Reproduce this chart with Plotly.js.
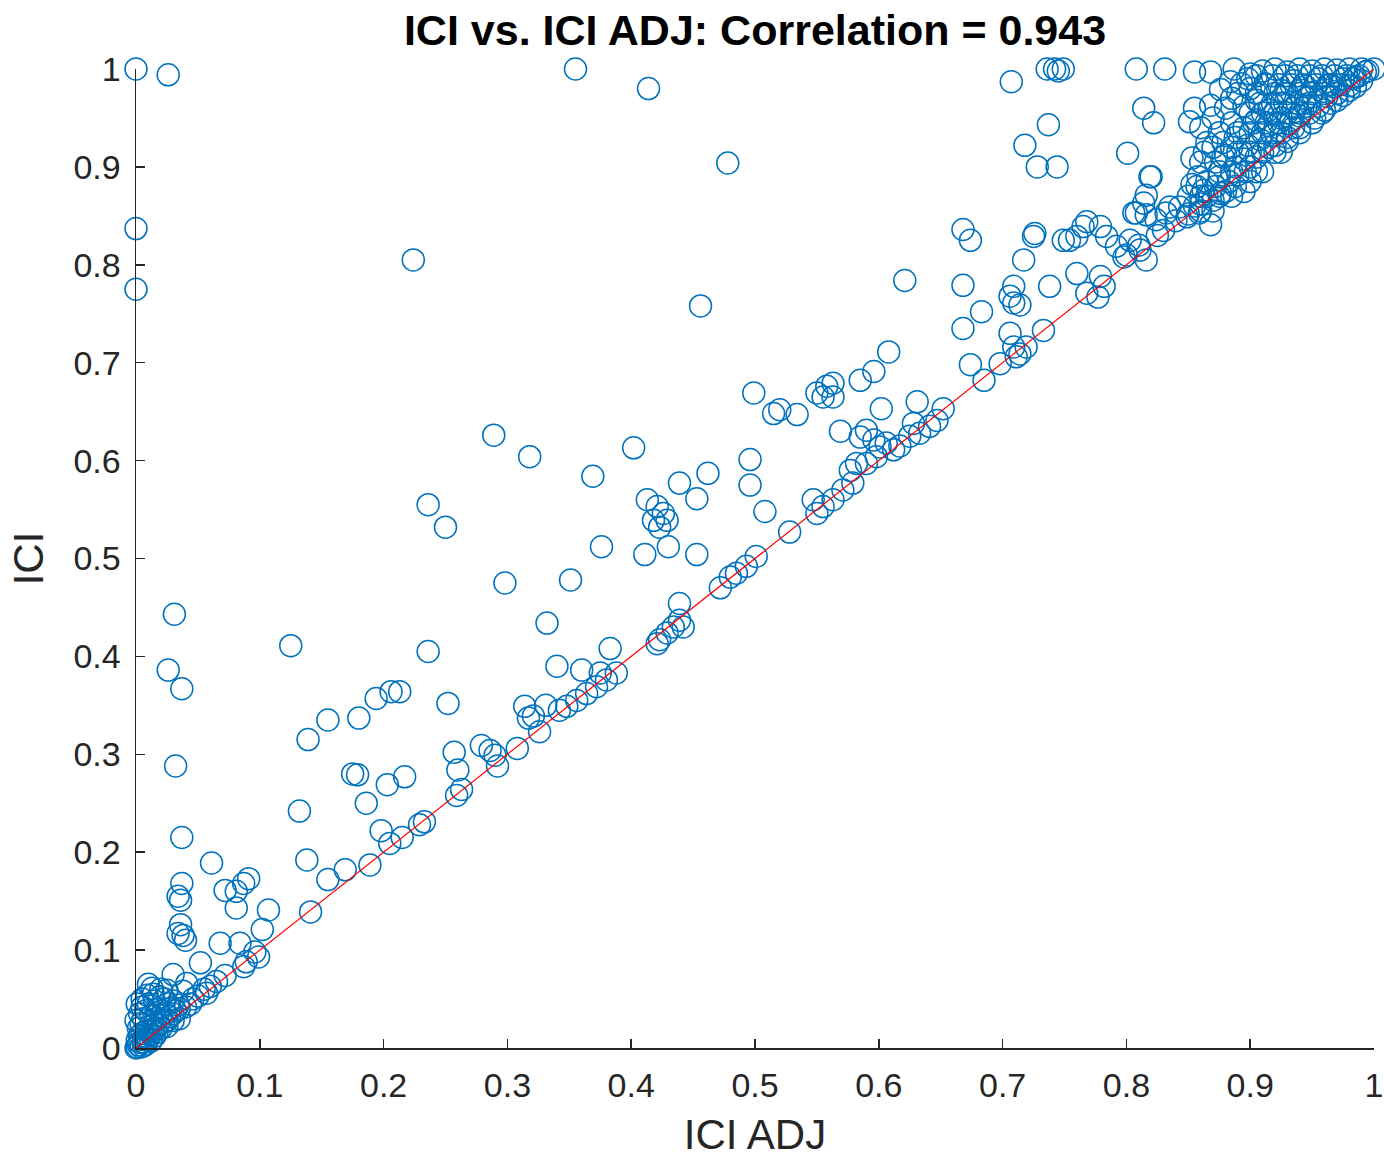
<!DOCTYPE html>
<html>
<head>
<meta charset="utf-8">
<script src="https://cdn.plot.ly/plotly-3.0.1.min.js"></script>
<style>html,body{margin:0;padding:0;background:#fff;}#chart{width:1384px;height:1158px;}</style>
</head>
<body>
<div id="chart"></div>
<script>
// Top outliers and far-left column
const adjTop = [0,0.026,0.355,0.414,0.478,0,0,0.224,0.456,0.707,0.736,0.742,0.749,0.745,0.808,0.831,0.855,0.868,0.887,0.737,0.718,0.728,0.744,0.814,0.822,0.801,0.82];
const iciTop = [1.0,0.994,1.0,0.98,0.904,0.837,0.775,0.805,0.758,0.987,1.0,1.0,1.0,0.998,1.0,1.0,0.997,0.997,1.0,0.943,0.922,0.9,0.9,0.96,0.945,0.914,0.89];

// Upper-right mid cluster
const adjUpper = [0.816,0.814,0.808,0.816,0.824,0.832,0.835,0.851,0.868,0.876,0.884,0.853,0.853,0.857,0.862,0.87,0.876,0.868,0.725,0.749,0.754,0.765,0.779,0.784,0.792,0.798,0.803,0.811,0.816,0.806,0.843,0.849,0.859,0.819,0.8,0.81,0.825,0.84,0.85,0.86,0.83];
const iciUpper = [0.871,0.863,0.853,0.851,0.846,0.853,0.859,0.946,0.963,0.979,0.987,0.909,0.882,0.88,0.876,0.866,0.873,0.841,0.829,0.825,0.825,0.839,0.839,0.829,0.819,0.808,0.825,0.815,0.805,0.853,0.859,0.849,0.853,0.89,0.81,0.82,0.83,0.845,0.852,0.862,0.835];

// 0.6 - 0.78 cluster
const adjMidHigh = [0.717,0.709,0.709,0.738,0.76,0.768,0.777,0.782,0.779,0.733,0.706,0.668,0.674,0.621,0.668,0.683,0.668,0.726,0.76,0.768,0.706,0.714,0.709,0.714,0.711,0.719,0.674,0.685,0.698,0.631,0.652,0.602,0.628,0.633,0.641,0.647,0.617,0.625];
const iciMidHigh = [0.805,0.778,0.761,0.778,0.791,0.771,0.767,0.778,0.788,0.733,0.73,0.836,0.825,0.784,0.779,0.752,0.735,0.832,0.829,0.844,0.768,0.759,0.716,0.709,0.706,0.716,0.698,0.682,0.699,0.66,0.653,0.653,0.638,0.628,0.635,0.641,0.615,0.625];

// 0.3 - 0.62 cluster
const adjMid = [0.289,0.318,0.402,0.369,0.413,0.421,0.426,0.418,0.429,0.423,0.439,0.462,0.453,0.499,0.515,0.52,0.534,0.55,0.558,0.563,0.563,0.555,0.585,0.596,0.608,0.496,0.496,0.508,0.528,0.569,0.585,0.59,0.596,0.601,0.598,0.606,0.612,0.582,0.577,0.59];
const iciMid = [0.626,0.604,0.613,0.584,0.56,0.553,0.546,0.539,0.539,0.532,0.577,0.587,0.561,0.669,0.648,0.652,0.647,0.669,0.676,0.679,0.665,0.665,0.682,0.691,0.711,0.601,0.575,0.548,0.527,0.63,0.624,0.631,0.621,0.614,0.604,0.618,0.611,0.597,0.59,0.597];

// 0.2 - 0.58 band
const adjMidLow = [0.547,0.555,0.55,0.563,0.571,0.579,0.501,0.493,0.485,0.48,0.472,0.376,0.411,0.43,0.453,0.298,0.351,0.332,0.236,0.25,0.236,0.252,0.213,0.439,0.439,0.434,0.429,0.423,0.421,0.442,0.383,0.34,0.36,0.375,0.388,0.38,0.372,0.364,0.356,0.348,0.342,0.314,0.321];
const iciMidLow = [0.56,0.553,0.546,0.56,0.57,0.577,0.502,0.492,0.485,0.481,0.47,0.512,0.504,0.512,0.504,0.475,0.478,0.434,0.555,0.532,0.405,0.352,0.364,0.454,0.437,0.43,0.424,0.417,0.413,0.43,0.408,0.39,0.386,0.383,0.383,0.376,0.369,0.362,0.355,0.349,0.345,0.349,0.339];

// 0.06 - 0.33 band
const adjLow = [0.125,0.206,0.194,0.18,0.155,0.139,0.175,0.179,0.217,0.203,0.186,0.132,0.198,0.215,0.229,0.233,0.205,0.189,0.138,0.155,0.169,0.141,0.107,0.091,0.087,0.081,0.072,0.081,0.061,0.102,0.068,0.084,0.096,0.099,0.089,0.087,0.257,0.26,0.263,0.259,0.279,0.286,0.29,0.292,0.308,0.326,0.331,0.317];
const iciLow = [0.411,0.364,0.357,0.337,0.335,0.315,0.28,0.279,0.277,0.269,0.25,0.242,0.222,0.215,0.228,0.231,0.209,0.187,0.192,0.172,0.182,0.139,0.141,0.173,0.168,0.16,0.161,0.143,0.189,0.121,0.107,0.107,0.098,0.093,0.088,0.083,0.302,0.284,0.264,0.258,0.309,0.304,0.299,0.288,0.306,0.323,0.35,0.337];

// Column near ICI ADJ = 0.03 and points close to the origin
const adjCol = [0.031,0.026,0.037,0.032,0.037,0.037,0.036,0.034,0.036,0.034,0.038,0.04,0.052,0.03,0.06,0.057,0.041,0.038,0.013,0.009,0.025,0.046,0.05,0.055,0.065,0.072,0.044,0.04,0.035];
const iciCol = [0.443,0.386,0.367,0.288,0.215,0.168,0.151,0.155,0.126,0.117,0.115,0.11,0.087,0.075,0.063,0.056,0.066,0.058,0.061,0.054,0.059,0.05,0.053,0.06,0.068,0.074,0.045,0.042,0.04];

const adjOrigin = [0,0.002,0.004,0.001,0.003,0.006,0.008,0.005,0.002,0.007,0.01,0.012,0.009,0.004,0.011,0.014,0.016,0.013,0.018,0.02,0.006,0.003,0.008,0.012,0.016,0.02,0.022,0.025,0.024,0.018,0.01,0.005,0.015,0.027,0.03,0.028,0.032,0.001,0.003,0.006,0.009,0.012,0.015,0.017,0.0,0.001,0.019,0.023,0.03,0.034,
  0.005,0.014,0.02,0.01,0.026,0.03,0.025,0.035];
const iciOrigin = [0,0.003,0.001,0.008,0.012,0.006,0.004,0.015,0.02,0.011,0.01,0.014,0.018,0.025,0.022,0.017,0.02,0.027,0.024,0.02,0.03,0.035,0.038,0.033,0.03,0.033,0.026,0.028,0.035,0.04,0.045,0.042,0.048,0.032,0.035,0.04,0.038,0.001,0.006,0.002,0.008,0.007,0.012,0.016,0.028,0.045,0.052,0.05,0.048,0.044,
  0.05,0.055,0.06,0.065,0.045,0.028,0.022,0.03];

// Dense top-right corner
const adjCorner = [0.9,0.91,0.92,0.93,0.94,0.95,0.96,0.97,0.98,0.99,1.0,0.995,
  0.9,0.912,0.925,0.935,0.945,0.955,0.965,0.975,0.985,0.98,
  0.895,0.905,0.915,0.925,0.935,0.945,0.955,0.962,0.97,0.965,
  0.885,0.895,0.905,0.915,0.925,0.932,0.94,0.948,0.952,
  0.878,0.888,0.898,0.908,0.918,0.925,0.93,0.935,
  0.872,0.88,0.888,0.895,0.9,0.905,0.91,0.915,
  0.865,0.875,0.883,0.89,0.896,
  0.92,0.94,0.96,0.97,0.98,0.99,0.985,0.975,0.95,0.93,
  0.855,0.86,0.865,0.87,0.875,0.88,0.885,0.89,0.893,0.898,0.86,0.863,0.87,0.878,0.885,0.858,0.865,0.872,0.88,0.888,0.85,0.855,0.86,0.87,0.895,0.9,0.91,
  0.905,0.918,0.928,0.938,0.948,0.958,0.968,0.978,0.988,
  0.905,0.92,0.93,0.94,0.95,0.96,0.97,
  0.9,0.91,0.92,0.93,0.94,0.958,
  0.89,0.9,0.91,0.92,0.94,
  0.89,0.9,0.92,0.925,
  0.875,0.885,0.905,
  0.86,0.875,0.885,
  0.913,0.923,0.933,0.943,0.953,0.963,0.973,0.983,0.993,
  0.908,0.918,0.928,0.938,0.948,0.967,0.903,0.913,0.923,0.933,0.945];
const iciCorner = [0.995,0.998,1.0,0.997,1.0,0.998,1.0,0.999,1.0,1.0,1.0,0.998,
  0.98,0.985,0.978,0.988,0.982,0.99,0.984,0.99,0.992,0.983,
  0.962,0.968,0.958,0.965,0.96,0.97,0.962,0.972,0.975,0.965,
  0.945,0.94,0.948,0.942,0.95,0.944,0.952,0.955,0.95,
  0.925,0.93,0.922,0.928,0.932,0.935,0.93,0.94,
  0.905,0.912,0.9,0.908,0.9,0.91,0.915,0.92,
  0.885,0.89,0.885,0.892,0.895,
  0.922,0.94,0.958,0.968,0.978,0.988,0.982,0.973,0.945,0.926,
  0.96,0.94,0.925,0.95,0.935,0.96,0.97,0.975,0.985,0.99,0.905,0.915,0.92,0.91,0.92,0.89,0.87,0.88,0.875,0.88,0.87,0.86,0.855,0.855,0.875,0.885,0.895,
  0.993,0.993,0.993,0.993,0.993,0.993,0.993,0.993,0.993,
  0.975,0.975,0.975,0.975,0.975,0.975,0.975,
  0.955,0.955,0.955,0.955,0.955,0.955,
  0.935,0.935,0.935,0.935,0.935,
  0.915,0.915,0.915,0.915,
  0.895,0.895,0.895,
  0.87,0.87,0.87,
  0.984,0.984,0.984,0.984,0.984,0.984,0.984,0.99,0.997,
  0.965,0.965,0.965,0.965,0.965,0.982,0.945,0.945,0.945,0.948,0.962];

const iciAdj = [].concat(adjTop, adjUpper, adjMidHigh, adjMid, adjMidLow, adjLow, adjCol, adjOrigin, adjCorner);
const ici = [].concat(iciTop, iciUpper, iciMidHigh, iciMid, iciMidLow, iciLow, iciCol, iciOrigin, iciCorner);

const refLineX = [0, 1];
const refLineY = [0, 1];
const tickVals = [0,0.1,0.2,0.3,0.4,0.5,0.6,0.7,0.8,0.9,1];
const tickText = ['0','0.1','0.2','0.3','0.4','0.5','0.6','0.7','0.8','0.9','1'];

const FONT = 'Liberation Sans, Arial, Helvetica, sans-serif';
const AXC = '#262626';

const traces = [
  {x: iciAdj, y: ici, type: 'scatter', mode: 'markers', cliponaxis: false,
   marker: {symbol: 'circle-open', size: 22, color: '#0072BD', line: {width: 1.5, color: '#0072BD'}}, hoverinfo: 'skip'},
  {x: refLineX, y: refLineY, type: 'scatter', mode: 'lines', cliponaxis: false,
   line: {color: '#FF0000', width: 1.2}, hoverinfo: 'skip'}
];

const axisCommon = {
  range: [0, 1], tickvals: tickVals, ticktext: tickText,
  ticks: 'inside', ticklen: 9, tickwidth: 1.5, tickcolor: AXC,
  showline: true, linecolor: AXC, linewidth: 1.5, mirror: false,
  showgrid: false, zeroline: false,
  tickfont: {family: FONT, size: 34, color: AXC}
};

const layout = {
  width: 1384, height: 1158,
  margin: {l: 136, r: 10, t: 69, b: 110},
  paper_bgcolor: '#ffffff', plot_bgcolor: '#ffffff',
  showlegend: false,
  title: {text: 'ICI vs. ICI ADJ: Correlation = 0.943', x: 0.5, xref: 'paper', xanchor: 'center',
          y: 1 - 30/1158, yref: 'container', yanchor: 'middle',
          font: {family: FONT, size: 43, color: '#000000', weight: 'bold'}},
  xaxis: Object.assign({}, axisCommon, {
    ticklabelstandoff: 7,
    title: {text: 'ICI ADJ', standoff: 19, font: {family: FONT, size: 42, color: AXC}}
  }),
  yaxis: Object.assign({}, axisCommon, {
    ticklabelstandoff: 7,
    title: {text: 'ICI', standoff: 16, font: {family: FONT, size: 42, color: AXC}}
  })
};

Plotly.newPlot('chart', traces, layout, {staticPlot: true, displayModeBar: false});
</script>
</body>
</html>
